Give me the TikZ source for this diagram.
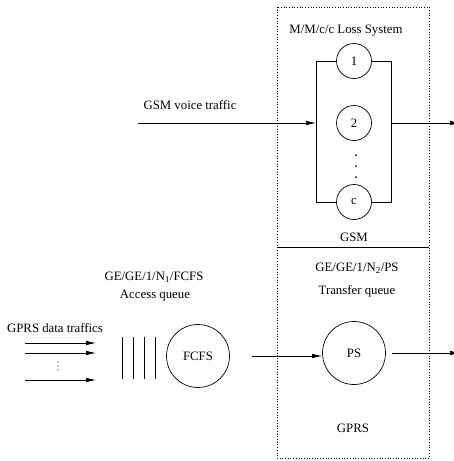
\documentclass[tikz,border=0pt]{standalone}
\usepackage{fontspec}
\setmainfont{Liberation Serif}
\usetikzlibrary{arrows.meta}

\begin{document}
\begin{tikzpicture}
[x=1pt,y=-1pt,line width=.7pt,
 font=\fontsize{12.8}{15}\selectfont,
 server/.style={circle,draw,fill=white,inner sep=0pt,minimum size=35pt},
 bigserver/.style={circle,draw,inner sep=0pt,minimum size=63pt},
 flow/.style={-{Latex[length=10pt,width=4.5pt]}}]
\clip (0,0) rectangle (454,461);

% GSM / GPRS system border
\draw[dotted] (277,7) rectangle (429,458);
\draw (277,247) -- (429,247);

\node (t1) at (346,31) {M/M/c/c Loss System};
\node (t2) at (190,105) {GSM voice traffic};
\node (t3) at (354,237) {GSM};
\node (t4) at (154,277) {GE/GE/1/N\textsubscript{1}/FCFS};
\node (t5) at (155,296) {Access queue};
\node (t6) at (357,268) {GE/GE/1/N\textsubscript{2}/PS};
\node (t7) at (357,291) {Transfer queue};
\node (t8) at (353,428) {GPRS};
\node (t9) at (55,328) {GPRS data traffics};

% loss system with c servers
\coordinate (lt) at (316,61);
\coordinate (rt) at (391,61);
\node[server] (s1) at (354,61) {1};
\node[server] (s2) at (354,123) {2};
\node[server] (sc) at (354,202) {c};
\draw (s1) -- (lt) |- (sc);
\draw (s1) -- (rt) |- (sc);
\foreach \y in {155,166,177}
\fill (356,\y) circle (1pt);

\coordinate (gsmin) at (138,123);
\coordinate (gsmout) at (460,123);
\draw[flow] (gsmin) -- (lt |- s2);
\draw[flow] (rt |- s2) -- (gsmout);

% GPRS access queue
\foreach \i/\y in {a/343,b/353,n/380}{
\coordinate (in\i) at (25,\y);
\coordinate (q\i) at (96,\y);
\draw[flow] (in\i) -- (q\i);
}
\foreach \y in {362,366,370}
\fill (58,\y) circle (.7pt);
\foreach \x in {122,133,144,155}
\draw (\x,337) -- (\x,379);

\node[bigserver] (fcfs) at (198,356) {FCFS};
\node[bigserver] (ps) at (354,353) {PS};
\coordinate (fcfsout) at (252,356);
\coordinate (psout) at (460,353);
\draw[flow] (fcfsout) -- (fcfsout -| ps.west);
\draw[flow,shorten <=6pt] (ps) -- (psout);
\end{tikzpicture}
\end{document}
